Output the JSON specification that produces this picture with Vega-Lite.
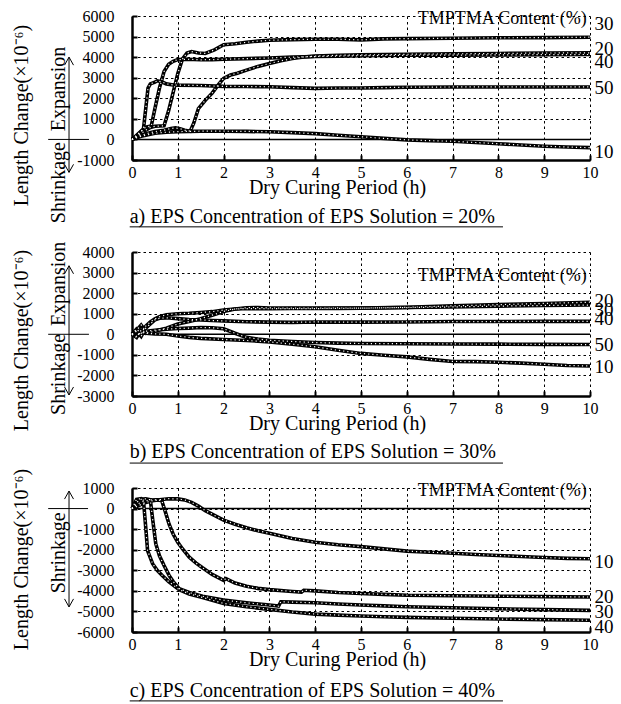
{
  "$schema": "https://vega.github.io/schema/vega-lite/v6.json",
  "background": "white",
  "padding": {"left": 11, "top": 8, "right": 2, "bottom": 2},
  "config": {
    "font": "Liberation Serif",
    "view": {"stroke": null},
    "axis": {
      "labelFont": "Liberation Serif", "labelFontSize": 16, "labelColor": "black",
      "titleFont": "Liberation Serif", "titleFontSize": 20, "titleFontWeight": "normal", "titleColor": "black",
      "domainColor": "black", "domainWidth": 2.5,
      "ticks": true, "tickColor": "black", "tickWidth": 2, "tickSize": -5,
      "grid": true, "gridColor": "black", "gridDash": [2.5, 3], "gridWidth": 1, "gridOpacity": 1,
      "labelFlush": false, "labelOverlap": false
    }
  },
  "datasets": {
    "la": [
      {"c":"10","t":0,"v":0},{"c":"10","t":0.1,"v":80},{"c":"10","t":0.2,"v":150},{"c":"10","t":0.35,"v":230},{"c":"10","t":0.5,"v":300},{"c":"10","t":0.75,"v":350},{"c":"10","t":1,"v":380},{"c":"10","t":1.25,"v":390},{"c":"10","t":1.5,"v":400},{"c":"10","t":2,"v":400},{"c":"10","t":2.5,"v":390},{"c":"10","t":3,"v":370},{"c":"10","t":3.5,"v":330},{"c":"10","t":4,"v":280},{"c":"10","t":4.5,"v":200},{"c":"10","t":5,"v":130},{"c":"10","t":5.5,"v":50},{"c":"10","t":6,"v":-20},{"c":"10","t":6.5,"v":-60},{"c":"10","t":7,"v":-90},{"c":"10","t":7.5,"v":-150},{"c":"10","t":8,"v":-210},{"c":"10","t":8.5,"v":-270},{"c":"10","t":9,"v":-330},{"c":"10","t":9.5,"v":-370},{"c":"10","t":10,"v":-400},
      {"c":"20","t":0,"v":0},{"c":"20","t":0.1,"v":100},{"c":"20","t":0.2,"v":200},{"c":"20","t":0.35,"v":300},{"c":"20","t":0.5,"v":380},{"c":"20","t":0.7,"v":450},{"c":"20","t":0.85,"v":530},{"c":"20","t":0.95,"v":560},{"c":"20","t":1.05,"v":520},{"c":"20","t":1.15,"v":450},{"c":"20","t":1.27,"v":400},{"c":"20","t":1.35,"v":800},{"c":"20","t":1.45,"v":1500},{"c":"20","t":1.6,"v":1900},{"c":"20","t":1.75,"v":2250},{"c":"20","t":1.9,"v":2700},{"c":"20","t":2,"v":2970},{"c":"20","t":2.15,"v":3130},{"c":"20","t":2.3,"v":3220},{"c":"20","t":2.5,"v":3370},{"c":"20","t":2.75,"v":3550},{"c":"20","t":3,"v":3690},{"c":"20","t":3.25,"v":3820},{"c":"20","t":3.5,"v":3930},{"c":"20","t":3.75,"v":4010},{"c":"20","t":4,"v":4050},{"c":"20","t":4.5,"v":4090},{"c":"20","t":5,"v":4110},{"c":"20","t":5.5,"v":4120},{"c":"20","t":6,"v":4140},{"c":"20","t":7,"v":4160},{"c":"20","t":8,"v":4180},{"c":"20","t":9,"v":4200},{"c":"20","t":10,"v":4210},
      {"c":"30","t":0,"v":0},{"c":"30","t":0.1,"v":120},{"c":"30","t":0.2,"v":280},{"c":"30","t":0.3,"v":450},{"c":"30","t":0.4,"v":580},{"c":"30","t":0.5,"v":640},{"c":"30","t":0.6,"v":650},{"c":"30","t":0.7,"v":660},{"c":"30","t":0.8,"v":1400},{"c":"30","t":0.9,"v":2300},{"c":"30","t":1,"v":3200},{"c":"30","t":1.1,"v":3900},{"c":"30","t":1.2,"v":4200},{"c":"30","t":1.3,"v":4270},{"c":"30","t":1.45,"v":4200},{"c":"30","t":1.6,"v":4180},{"c":"30","t":1.8,"v":4350},{"c":"30","t":2,"v":4600},{"c":"30","t":2.25,"v":4650},{"c":"30","t":2.5,"v":4720},{"c":"30","t":2.75,"v":4780},{"c":"30","t":3,"v":4820},{"c":"30","t":3.5,"v":4850},{"c":"30","t":4,"v":4870},{"c":"30","t":4.5,"v":4870},{"c":"30","t":5,"v":4840},{"c":"30","t":5.5,"v":4890},{"c":"30","t":6,"v":4900},{"c":"30","t":7,"v":4920},{"c":"30","t":8,"v":4940},{"c":"30","t":9,"v":4950},{"c":"30","t":10,"v":4970},
      {"c":"40","t":0,"v":0},{"c":"40","t":0.1,"v":200},{"c":"40","t":0.2,"v":400},{"c":"40","t":0.3,"v":600},{"c":"40","t":0.42,"v":650},{"c":"40","t":0.5,"v":1500},{"c":"40","t":0.6,"v":2500},{"c":"40","t":0.7,"v":3300},{"c":"40","t":0.8,"v":3650},{"c":"40","t":0.9,"v":3800},{"c":"40","t":1,"v":3880},{"c":"40","t":1.2,"v":3900},{"c":"40","t":1.5,"v":3870},{"c":"40","t":1.75,"v":3880},{"c":"40","t":2,"v":3900},{"c":"40","t":2.5,"v":3930},{"c":"40","t":3,"v":3960},{"c":"40","t":3.5,"v":4000},{"c":"40","t":4,"v":4030},{"c":"40","t":4.5,"v":4050},{"c":"40","t":5,"v":4070},{"c":"40","t":6,"v":4090},{"c":"40","t":7,"v":4100},{"c":"40","t":8,"v":4110},{"c":"40","t":9,"v":4120},{"c":"40","t":10,"v":4130},
      {"c":"50","t":0,"v":0},{"c":"50","t":0.1,"v":150},{"c":"50","t":0.2,"v":380},{"c":"50","t":0.25,"v":500},{"c":"50","t":0.3,"v":1500},{"c":"50","t":0.35,"v":2500},{"c":"50","t":0.4,"v":2700},{"c":"50","t":0.5,"v":2780},{"c":"50","t":0.55,"v":2850},{"c":"50","t":0.65,"v":2800},{"c":"50","t":0.75,"v":2700},{"c":"50","t":0.9,"v":2650},{"c":"50","t":1,"v":2640},{"c":"50","t":1.5,"v":2620},{"c":"50","t":2,"v":2580},{"c":"50","t":2.5,"v":2570},{"c":"50","t":3,"v":2560},{"c":"50","t":3.5,"v":2520},{"c":"50","t":4,"v":2480},{"c":"50","t":4.5,"v":2500},{"c":"50","t":5,"v":2500},{"c":"50","t":5.5,"v":2520},{"c":"50","t":6,"v":2540},{"c":"50","t":7,"v":2550},{"c":"50","t":8,"v":2550},{"c":"50","t":9,"v":2550},{"c":"50","t":10,"v":2550}
    ],
    "lb": [
      {"c":"10","t":0,"v":0},{"c":"10","t":0.1,"v":-100},{"c":"10","t":0.2,"v":100},{"c":"10","t":0.3,"v":50},{"c":"10","t":0.5,"v":20},{"c":"10","t":0.75,"v":0},{"c":"10","t":1,"v":-80},{"c":"10","t":1.25,"v":-150},{"c":"10","t":1.5,"v":-200},{"c":"10","t":2,"v":-250},{"c":"10","t":2.5,"v":-300},{"c":"10","t":3,"v":-370},{"c":"10","t":3.5,"v":-480},{"c":"10","t":4,"v":-610},{"c":"10","t":4.5,"v":-780},{"c":"10","t":5,"v":-930},{"c":"10","t":5.5,"v":-1020},{"c":"10","t":6,"v":-1100},{"c":"10","t":6.5,"v":-1220},{"c":"10","t":7,"v":-1320},{"c":"10","t":7.5,"v":-1330},{"c":"10","t":8,"v":-1360},{"c":"10","t":8.5,"v":-1400},{"c":"10","t":9,"v":-1460},{"c":"10","t":9.5,"v":-1520},{"c":"10","t":10,"v":-1540},
      {"c":"20","t":0,"v":0},{"c":"20","t":0.1,"v":-150},{"c":"20","t":0.2,"v":200},{"c":"20","t":0.3,"v":50},{"c":"20","t":0.5,"v":150},{"c":"20","t":0.75,"v":300},{"c":"20","t":1,"v":500},{"c":"20","t":1.25,"v":620},{"c":"20","t":1.5,"v":760},{"c":"20","t":1.75,"v":930},{"c":"20","t":2,"v":1110},{"c":"20","t":2.25,"v":1230},{"c":"20","t":2.5,"v":1290},{"c":"20","t":2.75,"v":1300},{"c":"20","t":3,"v":1280},{"c":"20","t":3.5,"v":1270},{"c":"20","t":4,"v":1270},{"c":"20","t":4.5,"v":1280},{"c":"20","t":5,"v":1270},{"c":"20","t":6,"v":1310},{"c":"20","t":7,"v":1380},{"c":"20","t":8,"v":1440},{"c":"20","t":9,"v":1500},{"c":"20","t":10,"v":1560},
      {"c":"30","t":0,"v":0},{"c":"30","t":0.1,"v":250},{"c":"30","t":0.2,"v":50},{"c":"30","t":0.3,"v":400},{"c":"30","t":0.4,"v":600},{"c":"30","t":0.5,"v":750},{"c":"30","t":0.6,"v":850},{"c":"30","t":0.75,"v":950},{"c":"30","t":1,"v":1000},{"c":"30","t":1.25,"v":1020},{"c":"30","t":1.5,"v":1060},{"c":"30","t":1.75,"v":1100},{"c":"30","t":2,"v":1180},{"c":"30","t":2.25,"v":1230},{"c":"30","t":2.5,"v":1250},{"c":"30","t":3,"v":1240},{"c":"30","t":3.5,"v":1250},{"c":"30","t":4,"v":1250},{"c":"30","t":4.5,"v":1260},{"c":"30","t":5,"v":1270},{"c":"30","t":6,"v":1300},{"c":"30","t":7,"v":1330},{"c":"30","t":8,"v":1370},{"c":"30","t":9,"v":1400},{"c":"30","t":10,"v":1420},
      {"c":"40","t":0,"v":0},{"c":"40","t":0.1,"v":150},{"c":"40","t":0.2,"v":-100},{"c":"40","t":0.3,"v":300},{"c":"40","t":0.4,"v":500},{"c":"40","t":0.5,"v":700},{"c":"40","t":0.6,"v":780},{"c":"40","t":0.75,"v":800},{"c":"40","t":1,"v":760},{"c":"40","t":1.25,"v":720},{"c":"40","t":1.5,"v":700},{"c":"40","t":1.75,"v":670},{"c":"40","t":2,"v":650},{"c":"40","t":2.5,"v":610},{"c":"40","t":3,"v":590},{"c":"40","t":3.5,"v":580},{"c":"40","t":4,"v":600},{"c":"40","t":5,"v":590},{"c":"40","t":6,"v":600},{"c":"40","t":7,"v":620},{"c":"40","t":8,"v":620},{"c":"40","t":9,"v":630},{"c":"40","t":10,"v":630},
      {"c":"50","t":0,"v":0},{"c":"50","t":0.1,"v":200},{"c":"50","t":0.2,"v":450},{"c":"50","t":0.3,"v":150},{"c":"50","t":0.5,"v":200},{"c":"50","t":0.75,"v":250},{"c":"50","t":1,"v":280},{"c":"50","t":1.25,"v":300},{"c":"50","t":1.5,"v":330},{"c":"50","t":1.75,"v":320},{"c":"50","t":2,"v":270},{"c":"50","t":2.25,"v":50},{"c":"50","t":2.5,"v":-150},{"c":"50","t":2.75,"v":-230},{"c":"50","t":3,"v":-290},{"c":"50","t":3.5,"v":-350},{"c":"50","t":4,"v":-400},{"c":"50","t":4.5,"v":-430},{"c":"50","t":5,"v":-450},{"c":"50","t":6,"v":-460},{"c":"50","t":7,"v":-470},{"c":"50","t":8,"v":-480},{"c":"50","t":9,"v":-490},{"c":"50","t":10,"v":-500}
    ],
    "lc": [
      {"c":"10","t":0,"v":0},{"c":"10","t":0.1,"v":100},{"c":"10","t":0.2,"v":200},{"c":"10","t":0.3,"v":300},{"c":"10","t":0.45,"v":380},{"c":"10","t":0.6,"v":430},{"c":"10","t":0.8,"v":480},{"c":"10","t":1,"v":470},{"c":"10","t":1.15,"v":420},{"c":"10","t":1.3,"v":300},{"c":"10","t":1.45,"v":120},{"c":"10","t":1.6,"v":-100},{"c":"10","t":1.8,"v":-330},{"c":"10","t":2,"v":-560},{"c":"10","t":2.25,"v":-760},{"c":"10","t":2.5,"v":-930},{"c":"10","t":2.75,"v":-1080},{"c":"10","t":3,"v":-1200},{"c":"10","t":3.5,"v":-1450},{"c":"10","t":4,"v":-1640},{"c":"10","t":4.5,"v":-1760},{"c":"10","t":5,"v":-1850},{"c":"10","t":5.5,"v":-1960},{"c":"10","t":6,"v":-2070},{"c":"10","t":6.5,"v":-2120},{"c":"10","t":7,"v":-2170},{"c":"10","t":7.5,"v":-2230},{"c":"10","t":8,"v":-2280},{"c":"10","t":8.5,"v":-2330},{"c":"10","t":9,"v":-2380},{"c":"10","t":9.5,"v":-2420},{"c":"10","t":10,"v":-2440},
      {"c":"20","t":0,"v":0},{"c":"20","t":0.1,"v":200},{"c":"20","t":0.25,"v":350},{"c":"20","t":0.4,"v":420},{"c":"20","t":0.55,"v":430},{"c":"20","t":0.65,"v":380},{"c":"20","t":0.72,"v":-100},{"c":"20","t":0.81,"v":-760},{"c":"20","t":0.9,"v":-1250},{"c":"20","t":1,"v":-1640},{"c":"20","t":1.1,"v":-1950},{"c":"20","t":1.25,"v":-2360},{"c":"20","t":1.4,"v":-2650},{"c":"20","t":1.54,"v":-2880},{"c":"20","t":1.75,"v":-3200},{"c":"20","t":2,"v":-3490},{"c":"20","t":2.05,"v":-3400},{"c":"20","t":2.25,"v":-3620},{"c":"20","t":2.5,"v":-3780},{"c":"20","t":2.75,"v":-3880},{"c":"20","t":3,"v":-3940},{"c":"20","t":3.5,"v":-4030},{"c":"20","t":3.7,"v":-4060},{"c":"20","t":3.75,"v":-3970},{"c":"20","t":4,"v":-4000},{"c":"20","t":4.5,"v":-4080},{"c":"20","t":5,"v":-4130},{"c":"20","t":5.5,"v":-4170},{"c":"20","t":6,"v":-4210},{"c":"20","t":7,"v":-4240},{"c":"20","t":8,"v":-4260},{"c":"20","t":9,"v":-4280},{"c":"20","t":10,"v":-4300},
      {"c":"30","t":0,"v":0},{"c":"30","t":0.1,"v":300},{"c":"30","t":0.2,"v":450},{"c":"30","t":0.3,"v":470},{"c":"30","t":0.4,"v":430},{"c":"30","t":0.45,"v":-510},{"c":"30","t":0.52,"v":-1720},{"c":"30","t":0.6,"v":-2300},{"c":"30","t":0.7,"v":-2770},{"c":"30","t":0.81,"v":-3250},{"c":"30","t":0.9,"v":-3550},{"c":"30","t":1.03,"v":-3890},{"c":"30","t":1.25,"v":-4080},{"c":"30","t":1.54,"v":-4260},{"c":"30","t":2,"v":-4450},{"c":"30","t":2.5,"v":-4580},{"c":"30","t":3,"v":-4690},{"c":"30","t":3.2,"v":-4740},{"c":"30","t":3.25,"v":-4530},{"c":"30","t":3.5,"v":-4550},{"c":"30","t":4,"v":-4580},{"c":"30","t":4.5,"v":-4640},{"c":"30","t":5,"v":-4690},{"c":"30","t":5.5,"v":-4730},{"c":"30","t":6,"v":-4770},{"c":"30","t":7,"v":-4820},{"c":"30","t":8,"v":-4870},{"c":"30","t":9,"v":-4910},{"c":"30","t":10,"v":-4950},
      {"c":"40","t":0,"v":0},{"c":"40","t":0.1,"v":450},{"c":"40","t":0.2,"v":480},{"c":"40","t":0.25,"v":400},{"c":"40","t":0.3,"v":-920},{"c":"40","t":0.34,"v":-2040},{"c":"40","t":0.45,"v":-2680},{"c":"40","t":0.55,"v":-3000},{"c":"40","t":0.66,"v":-3250},{"c":"40","t":0.8,"v":-3550},{"c":"40","t":1.03,"v":-3940},{"c":"40","t":1.25,"v":-4150},{"c":"40","t":1.54,"v":-4320},{"c":"40","t":2,"v":-4610},{"c":"40","t":2.5,"v":-4770},{"c":"40","t":3,"v":-4900},{"c":"40","t":3.5,"v":-5030},{"c":"40","t":4,"v":-5130},{"c":"40","t":4.5,"v":-5180},{"c":"40","t":5,"v":-5220},{"c":"40","t":5.5,"v":-5260},{"c":"40","t":6,"v":-5290},{"c":"40","t":7,"v":-5330},{"c":"40","t":8,"v":-5370},{"c":"40","t":9,"v":-5400},{"c":"40","t":10,"v":-5430}
    ]
  },
  "vconcat": [
    {
      "width": 458, "height": 144,
      "encoding": {
        "x": {"field": "t", "type": "quantitative", "scale": {"domain": [0, 10], "nice": false, "zero": false},
              "axis": {"values": [0,1,2,3,4,5,6,7,8,9,10], "title": "Dry Curing Period (h)", "labelPadding": 9,
                       "titleX": 205, "titleY": 27, "titleAlign": "center", "titleBaseline": "middle"}},
        "y": {"field": "v", "type": "quantitative", "scale": {"domain": [-1000, 6000], "nice": false, "zero": false},
              "axis": {"values": [-1000,0,1000,2000,3000,4000,5000,6000], "labelExpr": "'' + datum.value", "labelPadding": 23,
                       "title": "Length Change(×10⁻⁶)", "titleX": -111, "titleY": 99, "titleAngle": 270, "titleAlign": "center", "titleBaseline": "middle"}}
      },
      "layer": [
        {"data": {"values": [{"t": 0, "t2": 10, "v": 0}]}, "mark": {"type": "rule", "color": "black", "strokeWidth": 1.5}, "encoding": {"x2": {"field": "t2"}}},
        {"data": {"name": "la"}, "mark": {"type": "line", "color": "black", "strokeWidth": 3.6}, "encoding": {"detail": {"field": "c"}}},
        {"data": {"name": "la"}, "mark": {"type": "line", "color": "white", "strokeWidth": 1.2, "strokeDash": [1.2, 3]}, "encoding": {"detail": {"field": "c"}}},
        {"data": {"values": [{"t": 10.1, "v": 5600, "s": "30"}, {"t": 10.1, "v": 4390, "s": "20"}, {"t": 10.1, "v": 3740, "s": "40"}, {"t": 10.1, "v": 2520, "s": "50"}, {"t": 10.1, "v": -600, "s": "10"}]},
         "mark": {"type": "text", "align": "left", "baseline": "middle", "fontSize": 19, "font": "Liberation Serif", "color": "black"}, "encoding": {"text": {"field": "s"}}},
        {"data": {"values": [{"t": 9.93, "v": 5850, "s": "TMPTMA Content (%)"}]},
         "mark": {"type": "text", "align": "right", "baseline": "middle", "fontSize": 18, "font": "Liberation Serif", "color": "black"}, "encoding": {"text": {"field": "s"}}},
        {"data": {"values": [{"t": -0.05, "v": -3770, "s": "a) EPS Concentration of EPS Solution = 20%"}]},
         "mark": {"type": "text", "align": "left", "baseline": "middle", "fontSize": 20, "font": "Liberation Serif", "color": "black"}, "encoding": {"text": {"field": "s"}}},
        {"data": {"values": [{"t": -1.6, "v": 2450, "s": "Expansion"}, {"t": -1.6, "v": -2100, "s": "Shrinkage"}]},
         "mark": {"type": "text", "angle": 270, "align": "center", "baseline": "middle", "fontSize": 20, "font": "Liberation Serif", "color": "black"}, "encoding": {"text": {"field": "s"}}},
        {"data": {"values": [{"t": -1.375, "v": -1600, "v2": 4000}]}, "mark": {"type": "rule", "color": "black", "strokeWidth": 1}, "encoding": {"y2": {"field": "v2"}}},
        {"data": {"values": [{"t": -1.375, "v": 4000, "d": "up"}, {"t": -1.375, "v": -1600, "d": "down"}]},
         "mark": {"type": "point", "filled": false, "color": "black", "strokeWidth": 1, "size": 100, "opacity": 1},
         "encoding": {"shape": {"field": "d", "type": "nominal", "scale": {"domain": ["up", "down"], "range": ["M -0.9 1.6 L 0 0 L 0.9 1.6", "M -0.9 -1.6 L 0 0 L 0.9 -1.6"]}, "legend": null}}},
        {"data": {"values": [{"t": -1.83, "t2": -0.94, "v": 0}, {"t": -0.05, "t2": 8.1, "v": -4250}]}, "mark": {"type": "rule", "color": "black", "strokeWidth": 1}, "encoding": {"x2": {"field": "t2"}}}
      ]
    },
    {
      "width": 458, "height": 144,
      "encoding": {
        "x": {"field": "t", "type": "quantitative", "scale": {"domain": [0, 10], "nice": false, "zero": false},
              "axis": {"values": [0,1,2,3,4,5,6,7,8,9,10], "title": "Dry Curing Period (h)", "labelPadding": 9,
                       "titleX": 205, "titleY": 27, "titleAlign": "center", "titleBaseline": "middle"}},
        "y": {"field": "v", "type": "quantitative", "scale": {"domain": [-3000, 4000], "nice": false, "zero": false},
              "axis": {"values": [-3000,-2000,-1000,0,1000,2000,3000,4000], "labelExpr": "'' + datum.value", "labelPadding": 23,
                       "title": "Length Change(×10⁻⁶)", "titleX": -111, "titleY": 88, "titleAngle": 270, "titleAlign": "center", "titleBaseline": "middle"}}
      },
      "layer": [
        {"data": {"values": [{"t": 0, "t2": 10, "v": 0}]}, "mark": {"type": "rule", "color": "black", "strokeWidth": 1.5}, "encoding": {"x2": {"field": "t2"}}},
        {"data": {"name": "lb"}, "mark": {"type": "line", "color": "black", "strokeWidth": 3.6}, "encoding": {"detail": {"field": "c"}}},
        {"data": {"name": "lb"}, "mark": {"type": "line", "color": "white", "strokeWidth": 1.2, "strokeDash": [1.2, 3]}, "encoding": {"detail": {"field": "c"}}},
        {"data": {"values": [{"t": 10.1, "v": 1640, "s": "20"}, {"t": 10.1, "v": 1160, "s": "30"}, {"t": 10.1, "v": 760, "s": "40"}, {"t": 10.1, "v": -500, "s": "50"}, {"t": 10.1, "v": -1580, "s": "10"}]},
         "mark": {"type": "text", "align": "left", "baseline": "middle", "fontSize": 19, "font": "Liberation Serif", "color": "black"}, "encoding": {"text": {"field": "s"}}},
        {"data": {"values": [{"t": 9.93, "v": 2810, "s": "TMPTMA Content (%)"}]},
         "mark": {"type": "text", "align": "right", "baseline": "middle", "fontSize": 18, "font": "Liberation Serif", "color": "black"}, "encoding": {"text": {"field": "s"}}},
        {"data": {"values": [{"t": -0.05, "v": -5720, "s": "b) EPS Concentration of EPS Solution = 30%"}]},
         "mark": {"type": "text", "align": "left", "baseline": "middle", "fontSize": 20, "font": "Liberation Serif", "color": "black"}, "encoding": {"text": {"field": "s"}}},
        {"data": {"values": [{"t": -1.6, "v": 2450, "s": "Expansion"}, {"t": -1.6, "v": -1950, "s": "Shrinkage"}]},
         "mark": {"type": "text", "angle": 270, "align": "center", "baseline": "middle", "fontSize": 20, "font": "Liberation Serif", "color": "black"}, "encoding": {"text": {"field": "s"}}},
        {"data": {"values": [{"t": -1.375, "v": -2950, "v2": 3330}]}, "mark": {"type": "rule", "color": "black", "strokeWidth": 1}, "encoding": {"y2": {"field": "v2"}}},
        {"data": {"values": [{"t": -1.375, "v": 3330, "d": "up"}, {"t": -1.375, "v": -2950, "d": "down"}]},
         "mark": {"type": "point", "filled": false, "color": "black", "strokeWidth": 1, "size": 100, "opacity": 1},
         "encoding": {"shape": {"field": "d", "type": "nominal", "scale": {"domain": ["up", "down"], "range": ["M -0.9 1.6 L 0 0 L 0.9 1.6", "M -0.9 -1.6 L 0 0 L 0.9 -1.6"]}, "legend": null}}},
        {"data": {"values": [{"t": -1.83, "t2": -0.94, "v": 0}, {"t": -0.05, "t2": 8.1, "v": -6260}]}, "mark": {"type": "rule", "color": "black", "strokeWidth": 1}, "encoding": {"x2": {"field": "t2"}}}
      ]
    },
    {
      "width": 458, "height": 144,
      "encoding": {
        "x": {"field": "t", "type": "quantitative", "scale": {"domain": [0, 10], "nice": false, "zero": false},
              "axis": {"values": [0,1,2,3,4,5,6,7,8,9,10], "title": "Dry Curing Period (h)", "labelPadding": 9,
                       "titleX": 205, "titleY": 27, "titleAlign": "center", "titleBaseline": "middle"}},
        "y": {"field": "v", "type": "quantitative", "scale": {"domain": [-6000, 1000], "nice": false, "zero": false},
              "axis": {"values": [-6000,-5000,-4000,-3000,-2000,-1000,0,1000], "labelExpr": "'' + datum.value", "labelPadding": 23,
                       "title": "Length Change(×10⁻⁶)", "titleX": -111, "titleY": 71, "titleAngle": 270, "titleAlign": "center", "titleBaseline": "middle"}}
      },
      "layer": [
        {"data": {"values": [{"t": 0, "t2": 10, "v": 0}]}, "mark": {"type": "rule", "color": "black", "strokeWidth": 1.5}, "encoding": {"x2": {"field": "t2"}}},
        {"data": {"name": "lc"}, "mark": {"type": "line", "color": "black", "strokeWidth": 3.6}, "encoding": {"detail": {"field": "c"}}},
        {"data": {"name": "lc"}, "mark": {"type": "line", "color": "white", "strokeWidth": 1.2, "strokeDash": [1.2, 3]}, "encoding": {"detail": {"field": "c"}}},
        {"data": {"values": [{"t": 10.1, "v": -2600, "s": "10"}, {"t": 10.1, "v": -4300, "s": "20"}, {"t": 10.1, "v": -5050, "s": "30"}, {"t": 10.1, "v": -5750, "s": "40"}]},
         "mark": {"type": "text", "align": "left", "baseline": "middle", "fontSize": 19, "font": "Liberation Serif", "color": "black"}, "encoding": {"text": {"field": "s"}}},
        {"data": {"values": [{"t": 9.93, "v": 830, "s": "TMPTMA Content (%)"}]},
         "mark": {"type": "text", "align": "right", "baseline": "middle", "fontSize": 18, "font": "Liberation Serif", "color": "black"}, "encoding": {"text": {"field": "s"}}},
        {"data": {"values": [{"t": -0.05, "v": -8870, "s": "c) EPS Concentration of EPS Solution = 40%"}]},
         "mark": {"type": "text", "align": "left", "baseline": "middle", "fontSize": 20, "font": "Liberation Serif", "color": "black"}, "encoding": {"text": {"field": "s"}}},
        {"data": {"values": [{"t": -1.6, "v": -2150, "s": "Shrinkage"}]},
         "mark": {"type": "text", "angle": 270, "align": "center", "baseline": "middle", "fontSize": 20, "font": "Liberation Serif", "color": "black"}, "encoding": {"text": {"field": "s"}}},
        {"data": {"values": [{"t": -1.375, "v": -4780, "v2": 850}]}, "mark": {"type": "rule", "color": "black", "strokeWidth": 1}, "encoding": {"y2": {"field": "v2"}}},
        {"data": {"values": [{"t": -1.375, "v": 850, "d": "up"}, {"t": -1.375, "v": -4780, "d": "down"}]},
         "mark": {"type": "point", "filled": false, "color": "black", "strokeWidth": 1, "size": 100, "opacity": 1},
         "encoding": {"shape": {"field": "d", "type": "nominal", "scale": {"domain": ["up", "down"], "range": ["M -0.9 1.6 L 0 0 L 0.9 1.6", "M -0.9 -1.6 L 0 0 L 0.9 -1.6"]}, "legend": null}}},
        {"data": {"values": [{"t": -1.83, "t2": -0.96, "v": 0}, {"t": -0.05, "t2": 8.1, "v": -9350}]}, "mark": {"type": "rule", "color": "black", "strokeWidth": 1}, "encoding": {"x2": {"field": "t2"}}}
      ]
    }
  ],
  "bounds": "flush",
  "spacing": 92
}
